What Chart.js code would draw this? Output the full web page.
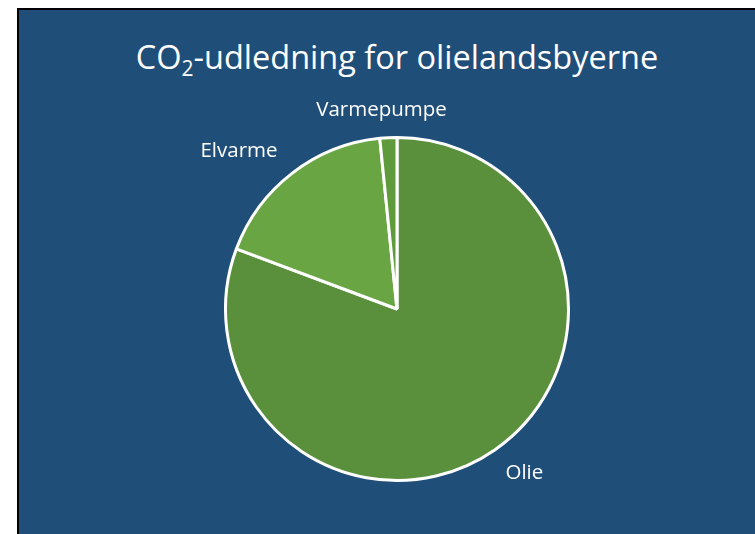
<!DOCTYPE html>
<html>
<head>
<meta charset="utf-8">
<script src="https://cdn.jsdelivr.net/npm/chart.js@4/dist/chart.umd.min.js"></script>
<style>
  html, body { margin: 0; padding: 0; background: #fff; }
  #panel {
    position: absolute; left: 17px; top: 8px; width: 738px; height: 526px;
    background: #1f4e79; border-left: 2px solid #000; border-top: 2px solid #000;
    box-sizing: border-box; overflow: hidden;
  }
  #title {
    position: absolute; left: 0; width: 100%; top: 24px; text-align: center;
    color: #fff; font-family: "Open Sans", Lato, sans-serif; font-size: 32.5px;
    padding-left: 20px; box-sizing: border-box;
  }
  #title sub { font-size: 21px; vertical-align: -7px; line-height: 0; }
  #chart-wrap { position: absolute; left: 0; top: 0; width: 736px; height: 524px; }
</style>
</head>
<body>
<div id="panel">
  <div id="title">CO<sub>2</sub>-udledning for olielandsbyerne</div>
  <div id="chart-wrap"><canvas id="pie"></canvas></div>
</div>
<script>
// Chart data
const categories = ["Olie", "Elvarme", "Varmepumpe"];
const emissions = [80.7, 17.7, 1.6];
const sliceColors = ["#5a8f3b", "#6aa544", "#5f9a3d"];

document.addEventListener("DOMContentLoaded", function() {
    // Draw category labels just outside each slice
    const outsideLabels = {
        id: "outsideLabels",
        afterDatasetsDraw(chart) {
            const ctx = chart.ctx;
            const meta = chart.getDatasetMeta(0);
            ctx.save();
            ctx.font = "20.5px 'Open Sans', Lato, sans-serif";
            ctx.fillStyle = "#ffffff";
            ctx.textAlign = "center";
            ctx.textBaseline = "middle";
            meta.data.forEach((arc, i) => {
                const p = arc.getProps(["x", "y", "startAngle", "endAngle", "outerRadius"], true);
                const mid = (p.startAngle + p.endAngle) / 2;
                const dx = Math.cos(mid), dy = Math.sin(mid);
                const w = ctx.measureText(categories[i]).width;
                const h = 20;
                const r = p.outerRadius + 18;
                const x = p.x + dx * r + dx * w * 0.9;
                const y = p.y + dy * r + dy * h / 2;
                ctx.fillText(categories[i], x, y);
            });
            ctx.restore();
        }
    };

    const pieCtx = document.getElementById("pie").getContext("2d");
    new Chart(pieCtx, {
        type: 'pie',
        data: {
            labels: categories,
            datasets: [{
                data: emissions,
                backgroundColor: sliceColors,
                borderColor: '#ffffff',
                borderWidth: 3,
            }],
        },
        options: {
            responsive: true,
            maintainAspectRatio: false,
            animation: false,
            layout: {
                padding: { top: 125, bottom: 51, left: 205, right: 185 },
            },
            plugins: {
                legend: { display: false },
                tooltip: { enabled: false },
                title: { display: false },
            },
        },
        plugins: [outsideLabels],
    });
});
</script>
</body>
</html>
